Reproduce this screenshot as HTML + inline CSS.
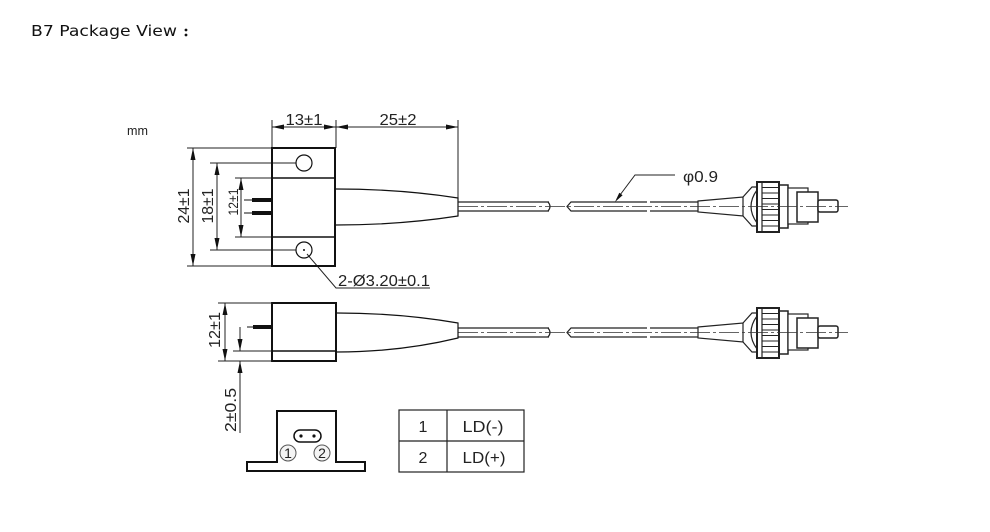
<!DOCTYPE html>
<html><head><meta charset="utf-8"><style>
html,body{margin:0;padding:0;background:#fff;}
svg{display:block;}
svg text{font-family:"Liberation Sans",Arial,sans-serif;font-size:16px;fill:#222;}
svg text.title{font-family:"DejaVu Sans","Noto Sans CJK SC",sans-serif;font-size:15px;fill:#111;}
</style></head><body>
<svg width="990" height="532" viewBox="0 0 990 532" xmlns="http://www.w3.org/2000/svg">
<rect width="990" height="532" fill="#fff"/>
<text class="title" x="31" y="36" textLength="146" lengthAdjust="spacingAndGlyphs">B7 Package View</text>
<circle cx="186" cy="30" r="1.4" fill="#111"/>
<circle cx="186" cy="35" r="1.4" fill="#111"/>
<text x="127" y="135" style="font-size:13px" textLength="21" lengthAdjust="spacingAndGlyphs">mm</text>

<!-- top dims -->
<g stroke="#222" stroke-width="1" fill="none">
<line x1="272" y1="120" x2="272" y2="148"/>
<line x1="336" y1="120" x2="336" y2="148"/>
<line x1="458" y1="120" x2="458" y2="198"/>
<line x1="272" y1="127" x2="458" y2="127"/>
<line x1="187" y1="148" x2="272" y2="148"/>
<line x1="187" y1="266" x2="272" y2="266"/>
<line x1="193" y1="148" x2="193" y2="266"/>
<line x1="210" y1="163" x2="296" y2="163"/>
<line x1="210" y1="250" x2="296" y2="250"/>
<line x1="217" y1="163" x2="217" y2="250"/>
<line x1="235" y1="178" x2="272" y2="178"/>
<line x1="235" y1="237" x2="272" y2="237"/>
<line x1="241" y1="178" x2="241" y2="237"/>
<polyline points="307,254 336,288 430,288"/>
<polyline points="675,175 635,175 617,199"/>
</g>
<g fill="#111" stroke="none">
<polygon points="272,127 284,124.5 284,129.5"/>
<polygon points="336,127 324,124.5 324,129.5"/>
<polygon points="336,127 348,124.5 348,129.5"/>
<polygon points="458,127 446,124.5 446,129.5"/>
<polygon points="193,148 190.5,160 195.5,160"/>
<polygon points="193,266 190.5,254 195.5,254"/>
<polygon points="217,163 214.5,175 219.5,175"/>
<polygon points="217,250 214.5,238 219.5,238"/>
<polygon points="241,178 238.5,190 243.5,190"/>
<polygon points="241,237 238.5,225 243.5,225"/>
<polygon points="615,202 622.6,195.2 619.3,192.8"/>
</g>
<text x="304" y="125" text-anchor="middle" textLength="37" lengthAdjust="spacingAndGlyphs">13±1</text>
<text x="398" y="125" text-anchor="middle" textLength="37" lengthAdjust="spacingAndGlyphs">25±2</text>
<text transform="translate(189,206) rotate(-90)" text-anchor="middle" textLength="35" lengthAdjust="spacingAndGlyphs">24±1</text>
<text transform="translate(213,206) rotate(-90)" text-anchor="middle" textLength="35" lengthAdjust="spacingAndGlyphs">18±1</text>
<text transform="translate(238,202) rotate(-90)" text-anchor="middle" style="font-size:14px" textLength="27" lengthAdjust="spacingAndGlyphs">12±1</text>
<text x="338" y="286" textLength="92" lengthAdjust="spacingAndGlyphs">2-Ø3.20±0.1</text>
<text x="683" y="182" textLength="35" lengthAdjust="spacingAndGlyphs">φ0.9</text>

<!-- top view body -->
<g stroke="#111" fill="none">
<rect x="272" y="148" width="63" height="118" stroke-width="2"/>
<line x1="272" y1="178" x2="335" y2="178" stroke-width="1.5"/>
<line x1="272" y1="237" x2="335" y2="237" stroke-width="1.5"/>
<circle cx="304" cy="163" r="8" stroke-width="1.2"/>
<circle cx="304" cy="250" r="8" stroke-width="1.2"/>
<path d="M336,189 Q400,189 458,198 L458,216 Q400,225 336,225" stroke-width="1.2"/>
<line x1="252" y1="200" x2="272" y2="200" stroke-width="4"/>
<line x1="252" y1="213" x2="272" y2="213" stroke-width="4"/>
<line x1="244" y1="200" x2="252" y2="200" stroke-width="1"/>
<line x1="244" y1="213" x2="252" y2="213" stroke-width="1"/>
</g>
<circle cx="304" cy="250" r="1" fill="#111"/>

<!-- fiber + connector group -->
<g id="fc">
<g stroke="#222" fill="none" stroke-width="1.2">
<line x1="458" y1="202" x2="549" y2="202"/>
<line x1="458" y1="211" x2="549" y2="211"/>
<path d="M548,202 Q552,206.5 548,211"/>
<path d="M647,202 L571,202 L567,206.5 L571,211 L647,211"/>
<line x1="650" y1="202" x2="698" y2="202"/>
<line x1="650" y1="211" x2="698" y2="211"/>
<polygon points="698,201 743,197 743,216 698,212" fill="#fff"/>
<polyline points="743,197 752,187 757,187"/>
<polyline points="743,216 752,226 757,226"/>
<path d="M757,190 Q745,206.5 757,223"/>
<rect x="779" y="185" width="9" height="43" fill="#fff" stroke-width="1.5"/>
<rect x="788" y="188" width="20" height="36" fill="#fff"/>
<rect x="797" y="192" width="21" height="30" fill="#fff" stroke-width="1.5"/>
<rect x="818" y="200" width="20" height="12" rx="2" fill="#fff" stroke-width="1.5"/>
<rect x="757" y="182" width="22" height="50" fill="#fff" stroke-width="2"/>
<line x1="762" y1="182" x2="762" y2="232"/>
</g>
<g stroke="#222" stroke-width="1">
<line x1="762" y1="187.5" x2="779" y2="187.5"/>
<line x1="762" y1="193" x2="779" y2="193"/>
<line x1="762" y1="198.5" x2="779" y2="198.5"/>
<line x1="762" y1="204" x2="779" y2="204"/>
<line x1="762" y1="209.5" x2="779" y2="209.5"/>
<line x1="762" y1="215" x2="779" y2="215"/>
<line x1="762" y1="220.5" x2="779" y2="220.5"/>
<line x1="762" y1="226" x2="779" y2="226"/>
</g>
<line x1="458" y1="206.5" x2="848" y2="206.5" stroke="#333" stroke-width="0.8" stroke-dasharray="20 3 3 3"/>
</g>
<use href="#fc" transform="translate(0,126)"/>

<!-- side view -->
<g stroke="#111" fill="none">
<rect x="272" y="303" width="64" height="58" stroke-width="2"/>
<line x1="272" y1="351" x2="336" y2="351" stroke-width="1.5"/>
<path d="M337,313 Q400,313 458,323 L458,338 Q400,352 337,352" stroke-width="1.2"/>
<line x1="253" y1="327" x2="272" y2="327" stroke-width="4"/>
<line x1="247" y1="327" x2="253" y2="327" stroke-width="1"/>
</g>
<g stroke="#222" stroke-width="1" fill="none">
<line x1="218" y1="303" x2="272" y2="303"/>
<line x1="218" y1="361" x2="272" y2="361"/>
<line x1="233" y1="351" x2="272" y2="351"/>
<line x1="225" y1="303" x2="225" y2="361"/>
<line x1="240" y1="327" x2="240" y2="351"/>
<line x1="240" y1="361" x2="240" y2="433"/>
</g>
<g fill="#111">
<polygon points="225,303 222.5,315 227.5,315"/>
<polygon points="225,361 222.5,349 227.5,349"/>
<polygon points="240,351 237.5,339 242.5,339"/>
<polygon points="240,361 237.5,373 242.5,373"/>
</g>
<text transform="translate(220,330) rotate(-90)" text-anchor="middle" textLength="36" lengthAdjust="spacingAndGlyphs">12±1</text>
<text transform="translate(236,410) rotate(-90)" text-anchor="middle" textLength="44" lengthAdjust="spacingAndGlyphs">2±0.5</text>

<!-- bottom view -->
<polygon points="247,471 365,471 365,462 336,462 336,411 277,411 277,462 247,462" fill="none" stroke="#111" stroke-width="2"/>
<rect x="294" y="430" width="27" height="12" rx="6" fill="none" stroke="#111" stroke-width="1.5"/>
<circle cx="301" cy="436" r="1.6" fill="#111"/>
<circle cx="314" cy="436" r="1.6" fill="#111"/>
<circle cx="288" cy="453" r="8" fill="#f4f4f4" stroke="#555" stroke-width="1"/>
<circle cx="322" cy="453" r="8" fill="#f4f4f4" stroke="#555" stroke-width="1"/>
<text x="288" y="458" text-anchor="middle" style="font-size:14px">1</text>
<text x="322" y="458" text-anchor="middle" style="font-size:14px">2</text>

<!-- table -->
<g stroke="#222" stroke-width="1.2" fill="none">
<rect x="399" y="410" width="125" height="62"/>
<line x1="447" y1="410" x2="447" y2="472"/>
<line x1="399" y1="441" x2="524" y2="441"/>
</g>
<text x="423" y="432" text-anchor="middle">1</text>
<text x="483" y="432" text-anchor="middle" textLength="41" lengthAdjust="spacingAndGlyphs">LD(-)</text>
<text x="423" y="463" text-anchor="middle">2</text>
<text x="484" y="463" text-anchor="middle" textLength="43" lengthAdjust="spacingAndGlyphs">LD(+)</text>
</svg>
</body></html>
